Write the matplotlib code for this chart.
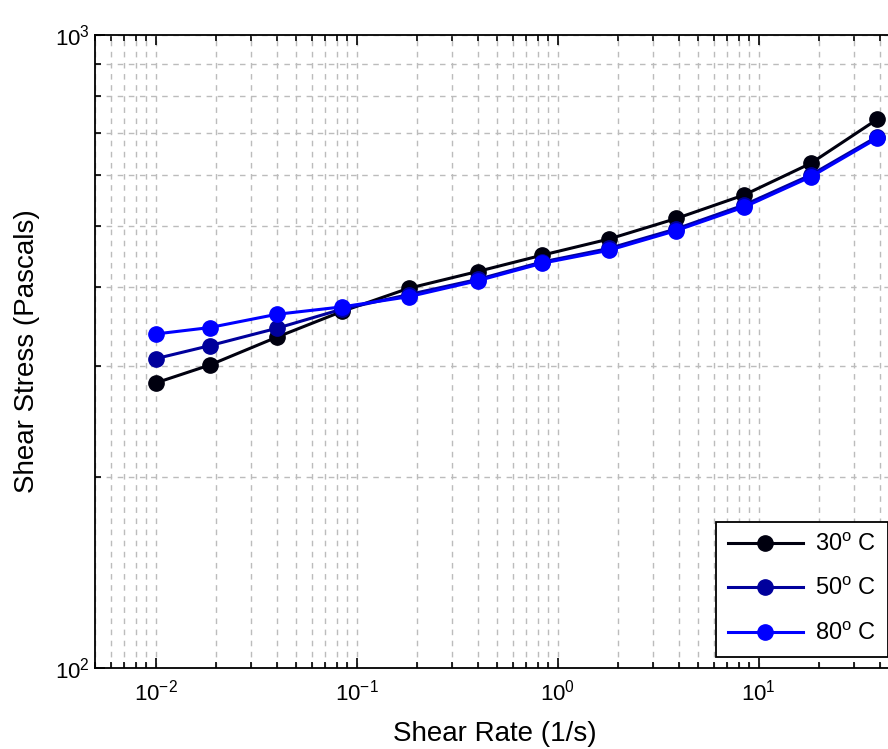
import numpy as np
import matplotlib
matplotlib.use('Agg')
import matplotlib.pyplot as plt
from matplotlib.ticker import LogLocator, NullFormatter

plt.rcParams['font.family'] = ['Liberation Sans', 'DejaVu Sans']
plt.rcParams['mathtext.default'] = 'regular'

# shear rate (1/s)
rate = [0.01, 0.0186, 0.04, 0.085, 0.182, 0.4, 0.84, 1.8, 3.9, 8.5, 18.2, 39]
# shear stress (Pa)
stress_30 = [282, 301, 333, 366, 398, 423, 449, 476, 513, 559, 627, 736]
stress_50 = [308, 323, 344, 369, 389, 411, 438, 460, 494, 539, 601, 691]
stress_80 = [337, 345, 362, 372, 386, 409, 436, 457, 491, 535, 597, 687]
labels = ['30$^{o}$ C', '50$^{o}$ C', '80$^{o}$ C']
colors = ['#00000f', '#00009c', '#0000ff']

fig = plt.figure(figsize=(8.88, 7.49), dpi=100)
ax = fig.add_axes([95/888, 1 - 668/749, (899 - 95)/888, (668 - 35)/749])

for s, lab, c in zip([stress_30, stress_50, stress_80], labels, colors):
    ax.plot(rate, s, '-o', color=c, lw=2.2, ms=11, label=lab)

ax.set_xscale('log')
ax.set_yscale('log')
ax.set_xlim(5e-3, 50)
ax.set_ylim(100, 1000)
ax.xaxis.set_major_locator(LogLocator(base=10, numticks=10))
ax.xaxis.set_minor_locator(LogLocator(base=10, subs=np.arange(2, 10), numticks=20))
ax.yaxis.set_major_locator(LogLocator(base=10, numticks=10))
ax.yaxis.set_minor_locator(LogLocator(base=10, subs=np.arange(2, 10), numticks=20))
ax.yaxis.set_minor_formatter(NullFormatter())
ax.xaxis.set_minor_formatter(NullFormatter())

ax.grid(True, which='both', color='#bcbcbc', linestyle=(0, (4, 4)), linewidth=1.0)
ax.tick_params(which='both', direction='in', top=True, right=True, labelsize=16, width=1.2)
ax.tick_params(which='major', length=7)
ax.tick_params(which='minor', length=4)
ax.tick_params(axis='x', pad=8)
ax.tick_params(axis='y', pad=4)
for sp in ax.spines.values():
    sp.set_linewidth(1.3)

ax.set_xlabel('Shear Rate (1/s)', fontsize=20, va='center')
ax.set_ylabel('Shear Stress (Pascals)', fontsize=20, va='center')
ax.xaxis.set_label_coords((495 - 95)/804, -(734 - 668)/633)
ax.yaxis.set_label_coords((27 - 95)/804, 0.5)

leg = ax.legend(loc='lower right', fontsize=17, fancybox=False, framealpha=1,
                edgecolor='black', handlelength=3.2, borderaxespad=0.47,
                labelspacing=0.95, handletextpad=0.5, borderpad=0.5)
leg.get_frame().set_linewidth(1.3)

fig.savefig('out.png', dpi=100)
